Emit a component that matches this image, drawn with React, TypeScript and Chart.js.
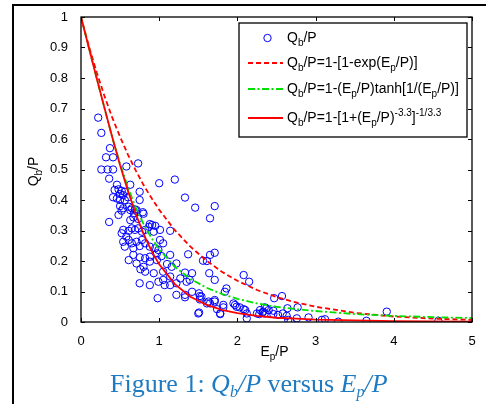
import React, { useEffect, useRef } from "react";
import { Chart, registerables } from "chart.js";

Chart.register(...registerables);

const FONT = '"Liberation Sans", Arial, Helvetica, sans-serif';

// Tick labels
const xTicks = [0, 1, 2, 3, 4, 5];
const yTicks = [0, 0.1, 0.2, 0.3, 0.4, 0.5, 0.6, 0.7, 0.8, 0.9, 1];

// Observed data (E_p/P, Q_b/P)
const obsX = [
  0.22, 0.26, 0.37, 0.32, 0.41, 0.73, 0.58, 0.26, 0.34, 0.41, 0.36, 0.63, 1.0, 1.2, 0.46, 0.48, 0.52, 0.56, 0.5, 0.54,
  0.75, 1.33, 0.41, 0.46, 0.5, 0.56, 0.75, 1.46, 1.71, 0.5, 0.54, 0.61, 0.65, 0.69, 0.48, 0.52, 0.63, 0.71, 0.79, 1.65,
  0.67, 0.73, 0.63, 0.36, 1.14, 0.88, 0.95, 0.54, 0.61, 0.65, 0.69, 0.73, 0.78, 0.82, 0.93, 0.52, 0.58, 0.54, 0.61, 0.65,
  0.71, 0.78, 0.82, 0.88, 0.95, 1.01, 1.05, 0.99, 0.56, 0.67, 0.75, 1.65, 1.71, 1.37, 0.97, 1.03, 1.14, 0.75, 0.82, 0.88,
  0.67, 1.61, 1.1, 1.22, 1.16, 0.61, 0.71, 0.88, 0.97, 0.8, 0.76, 1.33, 1.42, 0.82, 0.93, 1.05, 2.08, 2.15, 1.64, 1.71,
  0.75, 0.88, 0.99, 1.05, 1.14, 1.27, 1.35, 1.39, 1.14, 1.22, 1.07, 1.51, 1.54, 1.22, 1.33, 1.42, 1.52, 0.98, 1.84, 1.86,
  1.65, 1.71, 1.82, 1.95, 1.99, 2.08, 1.51, 1.78, 2.12, 2.25, 2.33, 2.37, 2.47, 2.57, 2.64, 2.77, 2.28, 2.32, 2.4, 2.46,
  2.52, 2.58, 2.63, 2.65, 2.76, 2.91, 3.08, 3.12, 3.29, 3.65, 3.91, 4.57, 2.12, 2.35, 2.46, 2.68, 2.29, 2.35, 1.61, 1.74,
  1.78, 1.82, 1.97, 2.03, 2.1, 1.5, 1.56, 1.52, 1.71, 1.63, 1.33, 0.43, 0.6, 0.68, 0.8, 0.91, 0.87, 1.01,
];
const obsY = [
  0.67, 0.62, 0.57, 0.54, 0.54, 0.52, 0.51, 0.5, 0.5, 0.5, 0.47, 0.45, 0.455, 0.467, 0.45, 0.435, 0.43, 0.427, 0.42, 0.416,
  0.427, 0.408, 0.409, 0.405, 0.4, 0.4, 0.4, 0.375, 0.38, 0.38, 0.373, 0.378, 0.373, 0.369, 0.351, 0.365, 0.367, 0.367, 0.36, 0.34,
  0.343, 0.338, 0.334, 0.328, 0.299, 0.321, 0.315, 0.302, 0.299, 0.307, 0.302, 0.307, 0.296, 0.302, 0.296, 0.291, 0.28, 0.263, 0.269, 0.258,
  0.263, 0.269, 0.258, 0.247, 0.242, 0.269, 0.258, 0.236, 0.247, 0.242, 0.249, 0.22, 0.227, 0.222, 0.225, 0.216, 0.22, 0.212, 0.209, 0.214,
  0.22, 0.2, 0.19, 0.192, 0.181, 0.203, 0.192, 0.198, 0.203, 0.181, 0.173, 0.162, 0.16, 0.165, 0.16, 0.165, 0.154, 0.132, 0.16, 0.138,
  0.127, 0.121, 0.132, 0.138, 0.149, 0.143, 0.132, 0.138, 0.121, 0.127, 0.121, 0.094, 0.083, 0.089, 0.089, 0.099, 0.074, 0.078, 0.099, 0.11,
  0.061, 0.067, 0.056, 0.061, 0.05, 0.042, 0.031, 0.028, 0.028, 0.028, 0.034, 0.045, 0.078, 0.085, 0.045, 0.048, 0.026, 0.031, 0.039, 0.026,
  0.023, 0.028, 0.02, 0.007, 0.012, 0.015, 0.007, 0.009, 0.001, 0.004, 0.034, 0.004, 0.012, 0.048, 0.037, 0.001, 0.039, 0.028, 0.061, 0.042,
  0.026, 0.048, 0.056, 0.048, 0.039, 0.028, 0.201, 0.085, 0.072, 0.067, 0.081, 0.433, 0.409, 0.357, 0.355, 0.318, 0.312, 0.302,
];

// Curves
const curveX = [0, 0.1, 0.2, 0.3, 0.4, 0.5, 0.6, 0.7, 0.8, 0.9, 1.0, 1.2, 1.4, 1.6, 1.8, 2.0, 2.25, 2.5, 2.75, 3.0, 3.5, 4.0, 4.5, 5.0];
const expCurve = [1, 0.905, 0.819, 0.741, 0.67, 0.607, 0.549, 0.497, 0.449, 0.407, 0.368, 0.301, 0.247, 0.202, 0.165, 0.135, 0.105, 0.082, 0.064, 0.05, 0.03, 0.018, 0.011, 0.007];
const tanhCurve = [1, 0.9, 0.8, 0.701, 0.605, 0.518, 0.441, 0.376, 0.321, 0.276, 0.238, 0.181, 0.141, 0.113, 0.092, 0.076, 0.061, 0.05, 0.042, 0.036, 0.026, 0.02, 0.016, 0.013];
const powCurve = [1, 0.9, 0.8, 0.702, 0.606, 0.514, 0.43, 0.355, 0.289, 0.234, 0.189, 0.124, 0.083, 0.057, 0.04, 0.029, 0.02, 0.014, 0.011, 0.008, 0.005, 0.003, 0.002, 0.0015];

const BLUE = "#0000ff";
const RED = "#ff0000";
const GREEN = "#00e000";
const DASH = [5, 3];
const DASHDOT = [7, 2.5, 2, 2.5];

type Part = { t: string; s?: "sub" | "sup" };

function drawRich(ctx: CanvasRenderingContext2D, parts: Part[], x: number, y: number, size: number, align: "left" | "center") {
  const small = Math.round(size * 0.72);
  const widths = parts.map((p) => {
    ctx.font = `${p.s ? small : size}px ${FONT}`;
    return ctx.measureText(p.t).width;
  });
  const total = widths.reduce((a, b) => a + b, 0);
  let cx = align === "center" ? x - total / 2 : x;
  ctx.textAlign = "left";
  ctx.textBaseline = "alphabetic";
  parts.forEach((p, i) => {
    ctx.font = `${p.s ? small : size}px ${FONT}`;
    const dy = p.s === "sub" ? size * 0.3 : p.s === "sup" ? -size * 0.42 : 0;
    ctx.fillText(p.t, cx, y + dy);
    cx += widths[i];
  });
}

const decor = {
  id: "decor",
  beforeDraw(chart: any) {
    const ctx = chart.ctx as CanvasRenderingContext2D;
    ctx.save();
    ctx.fillStyle = "#fff";
    ctx.fillRect(0, 0, chart.width, chart.height);
    ctx.strokeStyle = "#000";
    ctx.lineWidth = 2;
    ctx.beginPath();
    ctx.moveTo(13, chart.height);
    ctx.lineTo(13, 5);
    ctx.lineTo(chart.width, 5);
    ctx.stroke();
    ctx.restore();
  },
  afterDraw(chart: any) {
    const ctx = chart.ctx as CanvasRenderingContext2D;
    const { left, right, top, bottom } = chart.chartArea;
    const xs = chart.scales.x;
    const ys = chart.scales.y;
    ctx.save();
    ctx.strokeStyle = "#000";
    ctx.lineWidth = 1.3;
    ctx.setLineDash([]);
    ctx.strokeRect(left, top, right - left, bottom - top);
    ctx.lineWidth = 1;
    ctx.beginPath();
    xTicks.forEach((v) => {
      const px = Math.round(xs.getPixelForValue(v)) + 0.5;
      ctx.moveTo(px, bottom);
      ctx.lineTo(px, bottom - 4);
      ctx.moveTo(px, top);
      ctx.lineTo(px, top + 4);
    });
    yTicks.forEach((v) => {
      const py = Math.round(ys.getPixelForValue(v)) + 0.5;
      ctx.moveTo(left, py);
      ctx.lineTo(left + 4, py);
      ctx.moveTo(right, py);
      ctx.lineTo(right - 4, py);
    });
    ctx.stroke();

    // Axis titles
    ctx.fillStyle = "#000";
    drawRich(ctx, [{ t: "E" }, { t: "p", s: "sub" }, { t: "/P" }], (left + right) / 2 - 2, bottom + 34, 14, "center");
    ctx.save();
    ctx.translate(38, (top + bottom) / 2 + 2);
    ctx.rotate(-Math.PI / 2);
    drawRich(ctx, [{ t: "Q" }, { t: "b", s: "sub" }, { t: "/P" }], 0, 0, 14, "center");
    ctx.restore();

    // Legend
    const lx = right - 233;
    const ly = top + 6;
    const lw = 228;
    const lh = 114;
    ctx.fillStyle = "#fff";
    ctx.fillRect(lx, ly, lw, lh);
    ctx.strokeStyle = "#000";
    ctx.lineWidth = 1.3;
    ctx.strokeRect(lx, ly, lw, lh);
    const sx0 = lx + 9;
    const sx1 = lx + 44;
    const tx = lx + 48;
    // row 1: marker
    ctx.strokeStyle = BLUE;
    ctx.lineWidth = 1;
    ctx.beginPath();
    ctx.arc((sx0 + sx1) / 2 + 2, ly + 15, 3.7, 0, Math.PI * 2);
    ctx.stroke();
    // row 2..4: line samples
    const rows = [ly + 40, ly + 66, ly + 95];
    const styles: [string, number[]][] = [
      [RED, DASH],
      [GREEN, DASHDOT],
      [RED, []],
    ];
    styles.forEach(([c, d], i) => {
      ctx.strokeStyle = c;
      ctx.lineWidth = 1.8;
      ctx.setLineDash(d);
      ctx.beginPath();
      ctx.moveTo(sx0, rows[i]);
      ctx.lineTo(sx1, rows[i]);
      ctx.stroke();
    });
    ctx.setLineDash([]);
    ctx.fillStyle = "#000";
    const fs = 14;
    drawRich(ctx, [{ t: "Q" }, { t: "b", s: "sub" }, { t: "/P" }], tx, ly + 19, fs, "left");
    drawRich(ctx, [{ t: "Q" }, { t: "b", s: "sub" }, { t: "/P=1-[1-exp(E" }, { t: "p", s: "sub" }, { t: "/P)]" }], tx, rows[0] + 4, fs, "left");
    drawRich(
      ctx,
      [{ t: "Q" }, { t: "b", s: "sub" }, { t: "/P=1-(E" }, { t: "p", s: "sub" }, { t: "/P)tanh[1/(E" }, { t: "p", s: "sub" }, { t: "/P)]" }],
      tx,
      rows[1] + 4,
      fs,
      "left"
    );
    drawRich(
      ctx,
      [{ t: "Q" }, { t: "b", s: "sub" }, { t: "/P=1-[1+(E" }, { t: "p", s: "sub" }, { t: "/P)" }, { t: "-3.3", s: "sup" }, { t: "]" }, { t: "-1/3.3", s: "sup" }],
      tx,
      rows[2] + 4,
      fs,
      "left"
    );
    ctx.restore();
  },
};

export default function App() {
  const ref = useRef<HTMLCanvasElement | null>(null);

  useEffect(() => {
    const canvas = ref.current;
    if (!canvas) return;
    const obs = obsX.map((x, i) => ({ x, y: obsY[i] }));
    const mk = (ys: number[]) => curveX.map((x, i) => ({ x, y: ys[i] }));
    const chart = new Chart(canvas, {
      type: "scatter",
      data: {
        datasets: [
          {
            data: mk(powCurve),
            showLine: true,
            borderColor: RED,
            borderWidth: 1.8,
            pointRadius: 0,
            fill: false,
            tension: 0,
            order: 1,
          } as any,
          {
            data: mk(tanhCurve),
            showLine: true,
            borderColor: GREEN,
            borderWidth: 1.8,
            borderDash: DASHDOT,
            pointRadius: 0,
            fill: false,
            tension: 0,
            order: 2,
          } as any,
          {
            data: mk(expCurve),
            showLine: true,
            borderColor: RED,
            borderWidth: 1.8,
            borderDash: DASH,
            pointRadius: 0,
            fill: false,
            tension: 0,
            order: 3,
          } as any,
          {
            data: obs,
            showLine: false,
            pointStyle: "circle",
            pointRadius: 3.7,
            pointBorderWidth: 1,
            pointBorderColor: BLUE,
            pointBackgroundColor: "rgba(0,0,0,0)",
            borderColor: BLUE,
            backgroundColor: "rgba(0,0,0,0)",
            order: 4,
          } as any,
        ],
      },
      options: {
        animation: false,
        responsive: false,
        devicePixelRatio: 1,
        layout: { padding: { left: 0, right: 14, top: 17, bottom: 0 } },
        plugins: { legend: { display: false }, tooltip: { enabled: false } },
        scales: {
          x: {
            type: "linear",
            min: 0,
            max: 5,
            afterBuildTicks: (s: any) => {
              s.ticks = xTicks.map((v) => ({ value: v }));
            },
            afterFit: (s: any) => {
              s.height = 82;
            },
            grid: { display: false },
            border: { display: false },
            ticks: {
              autoSkip: false,
              maxRotation: 0,
              padding: 4,
              color: "#000",
              font: { family: FONT, size: 13 },
              callback: (v: any) => String(v),
            },
          },
          y: {
            type: "linear",
            min: 0,
            max: 1,
            afterBuildTicks: (s: any) => {
              s.ticks = yTicks.map((v) => ({ value: v }));
            },
            afterFit: (s: any) => {
              s.width = 81;
            },
            grid: { display: false },
            border: { display: false },
            ticks: {
              autoSkip: false,
              padding: 5,
              color: "#000",
              font: { family: FONT, size: 13 },
              callback: (v: any) => String(Math.round(Number(v) * 10) / 10),
            },
          },
        },
      } as any,
      plugins: [decor],
    });
    return () => chart.destroy();
  }, []);

  const subStyle: React.CSSProperties = { fontSize: "0.62em", verticalAlign: "baseline", position: "relative", top: "0.28em" };

  return (
    <div style={{ position: "fixed", left: 0, top: 0, width: 486, height: 404, background: "#fff", overflow: "hidden" }}>
      <canvas ref={ref} width={486} height={404} style={{ position: "absolute", left: 0, top: 0, width: 486, height: 404 }} />
      <div
        style={{
          position: "absolute",
          left: 110,
          top: 371,
          fontFamily: '"Liberation Serif", "Times New Roman", serif',
          fontSize: 26,
          lineHeight: 1,
          color: "#1f7bc1",
          whiteSpace: "nowrap",
        }}
      >
        Figure 1: <i>Q<sub style={subStyle}>b</sub>/P</i> versus <i>E<sub style={subStyle}>p</sub>/P</i>
      </div>
    </div>
  );
}
